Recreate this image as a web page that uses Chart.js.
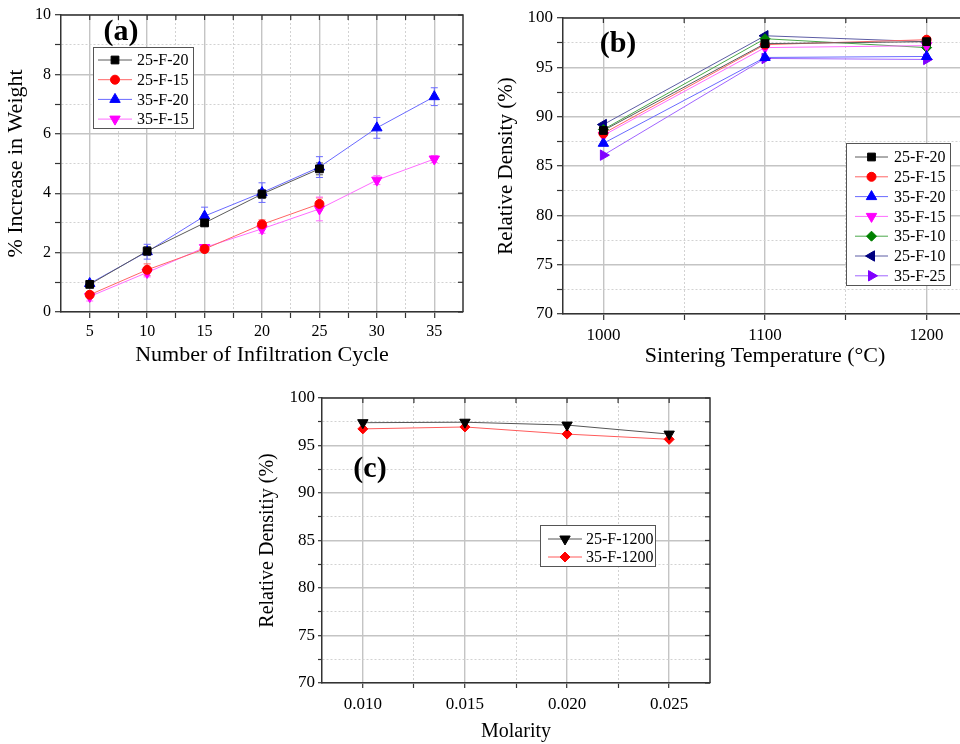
<!DOCTYPE html>
<html><head><meta charset="utf-8">
<script src="https://cdn.jsdelivr.net/npm/chart.js@4.4.1/dist/chart.umd.min.js"></script>
<style>
html,body{margin:0;padding:0;background:#fff;overflow:hidden;width:960px;height:744px;position:relative;}
canvas{position:absolute;display:block;}
#ca{left:0;top:0;} #cb{left:470px;top:0;} #cc{left:240px;top:375px;}
</style></head><body>
<canvas id="ca" width="470" height="372"></canvas>
<canvas id="cb" width="510" height="372"></canvas>
<canvas id="cc" width="490" height="369"></canvas>
<script>
// ---------- DATA ----------
// (a) % increase in weight vs number of infiltration cycles
const cycles = [5, 10, 15, 20, 25, 30, 35];
const a_25F20 = [0.93, 2.05, 3.0, 3.97, 4.82];
const a_25F20_err = [0.1, 0.15, 0.1, 0.15, 0.2];
const a_25F15 = [0.58, 1.42, 2.12, 2.95, 3.64];
const a_25F15_err = [0.1, 0.2, 0.1, 0.15, 0.2];
const a_35F20 = [0.96, 2.03, 3.23, 4.02, 4.88, 6.2, 7.25];
const a_35F20_err = [0.1, 0.25, 0.3, 0.33, 0.35, 0.35, 0.3];
const a_35F15 = [0.52, 1.33, 2.17, 2.8, 3.47, 4.44, 5.15];
const a_35F15_err = [0.15, 0.15, 0.1, 0.15, 0.4, 0.15, 0.12];
const aXMajor = [5, 10, 15, 20, 25, 30, 35];
const aXMinor = [7.5, 12.5, 17.5, 22.5, 27.5, 32.5];
const aYMajor = [0, 2, 4, 6, 8, 10];
const aYMinor = [1, 3, 5, 7, 9];

// (b) relative density vs sintering temperature
const temps = [1000, 1100, 1200];
const b_25F20 = [88.6, 97.4, 97.6];
const b_25F15 = [88.3, 97.3, 97.8];
const b_35F20 = [87.3, 96.0, 96.1];
const b_35F15 = [88.1, 97.0, 97.2];
const b_35F10 = [88.7, 97.9, 97.0];
const b_25F10 = [89.2, 98.2, 97.6];
const b_35F25 = [86.1, 95.9, 95.8];
const bXMajor = [1000, 1100, 1200];
const bXMinor = [1050, 1150];
const dYMajor = [70, 75, 80, 85, 90, 95, 100];
const dYMinor = [72.5, 77.5, 82.5, 87.5, 92.5, 97.5];

// (c) relative density vs molarity
const molarity = [0.010, 0.015, 0.020, 0.025];
const c_25F1200 = [97.4, 97.45, 97.15, 96.2];
const c_35F1200 = [96.75, 96.95, 96.2, 95.65];
const cXMajor = [0.010, 0.015, 0.020, 0.025];
const cXMinor = [0.0125, 0.0175, 0.0225];

// ---------- HELPERS ----------
const SERIF = "'Liberation Serif','Times New Roman',serif";
const pts = (xs, ys) => ys.map((y, i) => ({x: xs[i], y}));

function axis(o) {
  const all = o.major.concat(o.minor).sort((a, b) => a - b);
  const isMajor = v => o.major.some(m => Math.abs(m - v) < 1e-9);
  return {
    type: 'linear', position: o.isX ? 'bottom' : 'left', min: o.min, max: o.max,
    afterBuildTicks: s => { s.ticks = all.map(v => ({value: v})); },
    afterFit: s => { if (o.isX) s.height = o.size; else s.width = o.size; },
    ticks: { autoSkip: false, maxRotation: 0, color: '#000', padding: o.tickPad,
      font: {family: SERIF, size: o.tickSize}, callback: v => isMajor(v) ? o.fmt(v) : '' },
    grid: {
      color: c => (c.tick && isMajor(c.tick.value)) ? '#c4c4c4' : '#d2d2d2',
      lineWidth: c => (c.tick && isMajor(c.tick.value)) ? 1.4 : 1,
      tickLength: o.tickLen, tickColor: '#333', tickWidth: 1.2
    },
    border: { color: '#333', width: 1.5, dash: c => (c.tick && !isMajor(c.tick.value)) ? [2, 2] : [] },
    title: { display: true, text: o.title, color: '#000', font: {family: SERIF, size: o.titleSize}, padding: o.titlePad }
  };
}

function drawMarker(ctx, opt, x, y) {
  if (Chart.helpers && Chart.helpers.drawPoint) { Chart.helpers.drawPoint(ctx, opt, x, y); return; }
  ctx.beginPath(); ctx.arc(x, y, opt.radius, 0, Math.PI * 2); ctx.fill(); ctx.stroke();
}

const framePlugin = {
  id: 'frame',
  afterDraw(chart) {
    const {ctx, chartArea: {left, top, right, bottom}} = chart;
    const xs = chart.scales.x, ys = chart.scales.y;
    ctx.save();
    ctx.strokeStyle = '#333'; ctx.lineWidth = 1.5;
    ctx.beginPath(); ctx.moveTo(left, top); ctx.lineTo(right, top); ctx.lineTo(right, bottom); ctx.stroke();
    ctx.lineWidth = 1.2;
    xs.ticks.forEach(t => { const p = xs.getPixelForValue(t.value); ctx.beginPath(); ctx.moveTo(p, top); ctx.lineTo(p, top + 5); ctx.stroke(); });
    ys.ticks.forEach(t => { const p = ys.getPixelForValue(t.value); ctx.beginPath(); ctx.moveTo(right, p); ctx.lineTo(right - 5, p); ctx.stroke(); });
    ctx.restore();
  }
};

const errorPlugin = {
  id: 'errbars',
  beforeDatasetsDraw(chart) {
    const ctx = chart.ctx, ys = chart.scales.y;
    chart.data.datasets.forEach((ds, i) => {
      if (!ds.errors) return;
      const meta = chart.getDatasetMeta(i);
      ctx.save(); ctx.strokeStyle = ds.borderColor; ctx.lineWidth = 1;
      meta.data.forEach((el, j) => {
        const e = ds.errors[j]; if (e == null) return;
        const v = ds.data[j].y;
        const y1 = ys.getPixelForValue(v + e), y2 = ys.getPixelForValue(v - e);
        ctx.beginPath();
        ctx.moveTo(el.x, y1); ctx.lineTo(el.x, y2);
        ctx.moveTo(el.x - 3.5, y1); ctx.lineTo(el.x + 3.5, y1);
        ctx.moveTo(el.x - 3.5, y2); ctx.lineTo(el.x + 3.5, y2);
        ctx.stroke();
      });
      ctx.restore();
    });
  }
};

const legendPlugin = {
  id: 'boxLegend',
  afterDraw(chart, args, o) {
    const ctx = chart.ctx;
    ctx.save();
    ctx.fillStyle = '#fff'; ctx.fillRect(o.x, o.y, o.w, o.h);
    ctx.strokeStyle = '#555'; ctx.lineWidth = 1; ctx.strokeRect(o.x + 0.5, o.y + 0.5, o.w, o.h);
    ctx.font = o.fontSize + 'px ' + SERIF; ctx.textBaseline = 'middle'; ctx.textAlign = 'left';
    chart.data.datasets.forEach((ds, i) => {
      const cy = o.y0 + i * o.row;
      ctx.strokeStyle = ds.borderColor; ctx.lineWidth = 1;
      ctx.beginPath(); ctx.moveTo(o.l1, cy); ctx.lineTo(o.l2, cy); ctx.stroke();
      ctx.fillStyle = ds.pointBackgroundColor; ctx.strokeStyle = ds.pointBorderColor; ctx.lineWidth = 1;
      drawMarker(ctx, {pointStyle: ds.pointStyle, rotation: ds.pointRotation || 0, radius: ds.pointRadius, borderWidth: 1}, (o.l1 + o.l2) / 2, cy);
      ctx.fillStyle = '#000';
      ctx.fillText(ds.label, o.tx, cy + 1);
    });
    ctx.restore();
  }
};

const panelPlugin = {
  id: 'panelLabel',
  afterDraw(chart, args, o) {
    const ctx = chart.ctx;
    ctx.save();
    ctx.font = 'bold 30px ' + SERIF; ctx.fillStyle = '#000';
    ctx.textAlign = 'center'; ctx.textBaseline = 'middle';
    ctx.fillText(o.text, o.x, o.y);
    ctx.restore();
  }
};

function ds(label, data, line, fill, style, radius, rot, errors) {
  return { label, data, borderColor: line, backgroundColor: fill, borderWidth: 1,
    pointStyle: style, pointRadius: radius, pointRotation: rot || 0,
    pointBackgroundColor: fill, pointBorderColor: fill, pointBorderWidth: 1,
    tension: 0, fill: false, errors };
}

const common = (pad, scales, legend, panel) => ({
  responsive: false, animation: false, devicePixelRatio: 1,
  layout: { padding: pad },
  scales,
  plugins: { legend: {display: false}, tooltip: {enabled: false}, boxLegend: legend, panelLabel: panel }
});

// ---------- CHART (a) ----------
new Chart(document.getElementById('ca'), {
  type: 'line',
  data: { datasets: [
    ds('25-F-20', pts(cycles, a_25F20), '#5a5a5a', '#000000', 'rect', 5.5, 0, a_25F20_err),
    ds('25-F-15', pts(cycles, a_25F15), '#ff6464', '#ff0000', 'circle', 4.5, 0, a_25F15_err),
    ds('35-F-20', pts(cycles, a_35F20), '#6a6aff', '#0000ff', 'triangle', 6, 0, a_35F20_err),
    ds('35-F-15', pts(cycles, a_35F15), '#ff6cff', '#ff00ff', 'triangle', 6, 180, a_35F15_err)
  ]},
  options: common({left: 0, top: 15, right: 7, bottom: 0}, {
    x: axis({isX: true, min: 2.5, max: 37.5, major: aXMajor, minor: aXMinor, fmt: v => String(v),
      size: 60, tickLen: 6, tickPad: 4, tickSize: 16, title: 'Number of Infiltration Cycle', titleSize: 22, titlePad: {top: 2, bottom: 4}}),
    y: axis({isX: false, min: 0, max: 10, major: aYMajor, minor: aYMinor, fmt: v => String(v),
      size: 61, tickLen: 6, tickPad: 4, tickSize: 16, title: '% Increase in Weight', titleSize: 22, titlePad: {top: 3, bottom: 2}})
  }, {x: 93, y: 47, w: 100, h: 81, y0: 60, row: 19.7, l1: 98, l2: 132, tx: 137, fontSize: 16},
     {text: '(a)', x: 121, y: 32}),
  plugins: [errorPlugin, framePlugin, legendPlugin, panelPlugin]
});

// ---------- CHART (b) ----------
new Chart(document.getElementById('cb'), {
  type: 'line',
  data: { datasets: [
    ds('25-F-20', pts(temps, b_25F20), '#5a5a5a', '#000000', 'rect', 5.5, 0),
    ds('25-F-15', pts(temps, b_25F15), '#ff6464', '#ff0000', 'circle', 4.5, 0),
    ds('35-F-20', pts(temps, b_35F20), '#6a6aff', '#0000ff', 'triangle', 6, 0),
    ds('35-F-15', pts(temps, b_35F15), '#ff6cff', '#ff00ff', 'triangle', 6, 180),
    ds('35-F-10', pts(temps, b_35F10), '#4aa84a', '#008000', 'rectRot', 5, 0),
    ds('25-F-10', pts(temps, b_25F10), '#5c5ca4', '#000080', 'triangle', 6, 270),
    ds('35-F-25', pts(temps, b_35F25), '#a064ff', '#8000ff', 'triangle', 6, 90)
  ]},
  options: common({left: 0, top: 18, right: 13, bottom: 0}, {
    x: axis({isX: true, min: 975, max: 1225, major: bXMajor, minor: bXMinor, fmt: v => String(v),
      size: 58, tickLen: 6, tickPad: 5, tickSize: 17, title: 'Sintering Temperature (°C)', titleSize: 22, titlePad: {top: 2, bottom: 3}}),
    y: axis({isX: false, min: 70, max: 100, major: dYMajor, minor: dYMinor, fmt: v => String(v),
      size: 93, tickLen: 6, tickPad: 4, tickSize: 17, title: 'Relative Density (%)', titleSize: 21, titlePad: {top: 24, bottom: 2}})
  }, {x: 376, y: 143, w: 104, h: 142, y0: 157, row: 19.8, l1: 385, l2: 418, tx: 424, fontSize: 16},
     {text: '(b)', x: 148, y: 44}),
  plugins: [framePlugin, legendPlugin, panelPlugin]
});

// ---------- CHART (c) ----------
new Chart(document.getElementById('cc'), {
  type: 'line',
  data: { datasets: [
    ds('25-F-1200', pts(molarity, c_25F1200), '#555555', '#000000', 'triangle', 6, 180),
    ds('35-F-1200', pts(molarity, c_35F1200), '#ff5a5a', '#ff0000', 'rectRot', 5, 0)
  ]},
  options: common({left: 0, top: 23, right: 20, bottom: 0}, {
    x: axis({isX: true, min: 0.008, max: 0.027, major: cXMajor, minor: cXMinor, fmt: v => v.toFixed(3),
      size: 61, tickLen: 5, tickPad: 6, tickSize: 17, title: 'Molarity', titleSize: 20, titlePad: {top: 2, bottom: 0}}),
    y: axis({isX: false, min: 70, max: 100, major: dYMajor, minor: dYMinor, fmt: v => String(v),
      size: 82, tickLen: 4, tickPad: 3, tickSize: 17, title: 'Relative Densitiy (%)', titleSize: 20, titlePad: {top: 16, bottom: 2}})
  }, {x: 300, y: 150, w: 115, h: 41, y0: 164, row: 18, l1: 308, l2: 342, tx: 346, fontSize: 16},
     {text: '(c)', x: 130, y: 94}),
  plugins: [framePlugin, legendPlugin, panelPlugin]
});
</script>
</body></html>
